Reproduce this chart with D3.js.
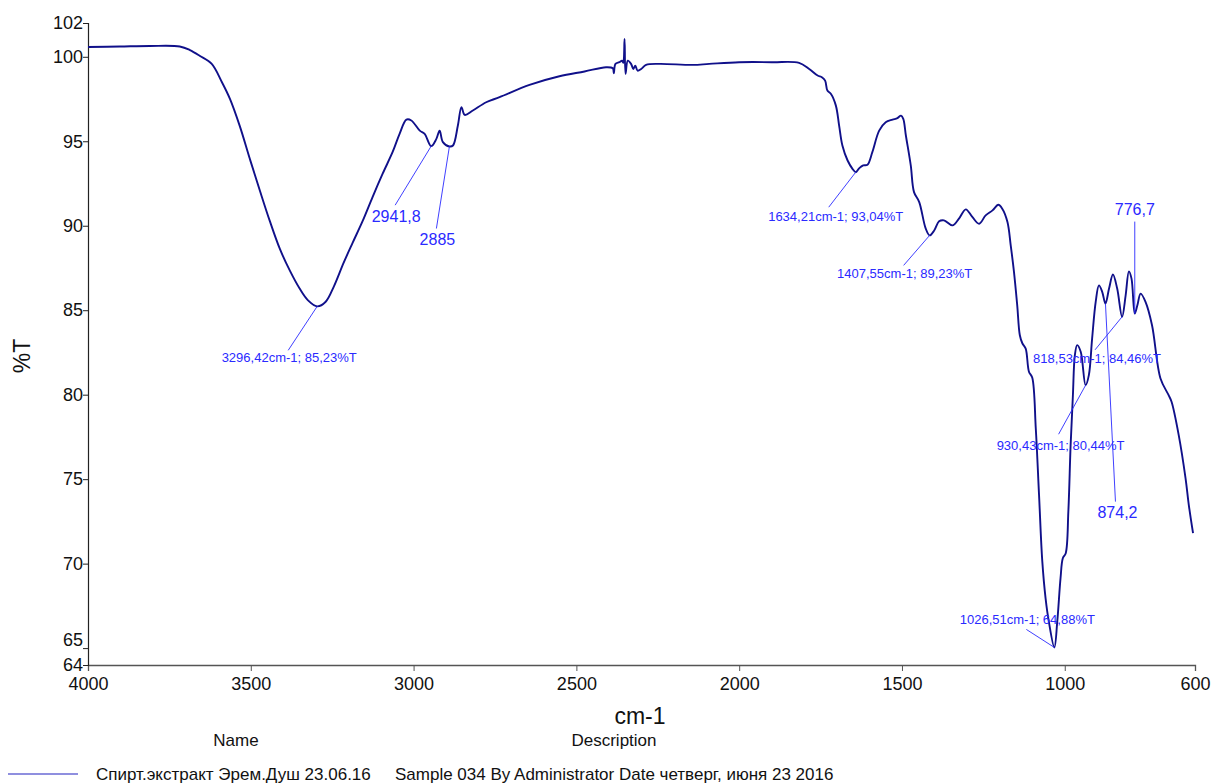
<!DOCTYPE html>
<html><head><meta charset="utf-8">
<script src="https://cdn.jsdelivr.net/npm/d3@7/dist/d3.min.js"></script>
<style>
html,body{margin:0;padding:0;background:#fff;}
svg{display:block;font-family:"Liberation Sans",Arial,sans-serif;}
</style></head>
<body>
<svg id="chart" width="1211" height="784"></svg>
<script>
// ---- data ----
const wavenumbers = [4000,3902,3810,3718,3687,3656,3620,3589,3564,3534,3503,3472,3442,3411,3380,3350,3325,3296,3270,3245,3215,3187,3156,3126,3095,3064,3043,3022,3007,2981,2966,2946,2930,2920,2910,2890,2879,2864,2853,2843,2818,2777,2736,2644,2552,2475,2409,2388,2385,2380,2368,2360,2356,2352,2349,2342,2332,2325,2319,2312,2301,2286,2245,2143,2092,2000,1897,1816,1785,1759,1746,1736,1729,1718,1703,1693,1683,1667,1652,1642,1631,1619,1606,1591,1570,1550,1529,1514,1503,1496,1488,1473,1463,1447,1427,1415,1401,1386,1371,1345,1325,1304,1284,1263,1243,1222,1204,1192,1176,1166,1156,1146,1138,1130,1120,1110,1100,1089,1079,1069,1059,1049,1032,1023,1013,1006,997,989,982,975,969,962,951,936,926,916,905,895,885,875,864,852,839,824,813,803,795,785,777,767,752,732,706,681,672,650,629,619,606];
const transmittance = [100.58,100.61,100.64,100.61,100.40,100.05,99.58,98.51,97.51,95.91,93.96,92.07,90.30,88.64,87.34,86.28,85.60,85.23,85.50,86.40,87.80,89.00,90.30,91.70,93.08,94.38,95.44,96.28,96.23,95.63,95.44,94.71,95.14,95.63,94.95,94.69,94.75,95.93,97.02,96.56,96.82,97.31,97.61,98.34,98.85,99.13,99.38,99.32,99.03,99.58,99.68,99.77,99.64,101.05,98.99,99.77,99.58,99.28,99.48,99.18,99.28,99.52,99.58,99.52,99.58,99.68,99.68,99.64,99.28,98.89,98.79,98.59,98.00,97.80,97.11,95.93,94.75,93.86,93.37,93.17,93.41,93.57,93.61,94.36,95.63,96.13,96.28,96.37,96.52,96.33,95.34,93.57,91.99,91.40,89.83,89.43,89.72,90.26,90.32,90.02,90.42,90.97,90.52,90.12,90.61,90.91,91.24,91.01,90.22,88.84,87.27,85.29,83.52,83.03,82.73,81.36,81.02,78.00,74.06,70.13,67.96,66.58,65.04,66.58,69.14,70.32,70.62,73.08,77.02,79.97,82.34,82.93,82.54,80.56,81.16,83.32,85.49,86.47,86.09,85.39,86.28,87.11,86.28,84.61,85.88,87.30,86.87,84.80,85.29,85.98,85.49,84.11,80.96,79.97,79.58,77.61,75.05,73.47,71.80];
const xTickValues = [4000,3500,3000,2500,2000,1500,1000,600];
const yTickValues = [64,65,70,75,80,85,90,95,100,102];
const peakLabels = ["3296,42cm-1; 85,23%T","2941,8","2885","1634,21cm-1; 93,04%T","1407,55cm-1; 89,23%T","776,7","818,53cm-1; 84,46%T","930,43cm-1; 80,44%T","874,2","1026,51cm-1; 64,88%T"];
const peakWavenumbers = [3296,2946,2890,1642,1415,785,824,936,875,1032];
const peakTransmittance = [85.23,94.71,94.69,93.17,89.43,84.80,84.61,80.56,85.39,65.04];
const legendName = "Спирт.экстракт Эрем.Душ 23.06.16";
const legendDescription = "Sample 034 By Administrator Date четверг, июня 23 2016";

// ---- layout (pixel offsets of leader lines and labels from their peaks) ----
const peakLayout = [
  {lx:-29,ly:44, tx:-28,ty:52, fs:13},
  {lx:-36,ly:59, tx:-35,ty:72, fs:16},
  {lx:-13,ly:82, tx:-12,ty:94, fs:16},
  {lx:-27,ly:35, tx:-20,ty:45, fs:13},
  {lx:-26,ly:30, tx:-25,ty:39, fs:13},
  {lx:0,ly:-92, tx:0,ty:-103, fs:16},
  {lx:-27,ly:33, tx:-25,ty:43, fs:13},
  {lx:-27,ly:49, tx:-25,ty:61, fs:13},
  {lx:10,ly:198, tx:12,ty:210, fs:16},
  {lx:-28,ly:-18, tx:-27,ty:-27, fs:13}
];

const svg = d3.select("#chart");
const x = d3.scaleLinear().domain([4000,600]).range([88,1195]);
const y = d3.scaleLinear().domain([64,102]).range([665,23]);
const axisColor = "#222";
const lineColor = "#10108a";
const annColor = "#2a2aff";

// axes
const xAxis = svg.append("g").attr("transform","translate(0,665)")
  .call(d3.axisBottom(x).tickValues(xTickValues).tickFormat(d3.format("d")).tickSizeOuter(0).tickSize(6));
xAxis.select(".domain").attr("stroke","#555").attr("stroke-width",1.3);
xAxis.selectAll(".tick line").attr("stroke","#555");
xAxis.selectAll(".tick text").attr("font-size",18).attr("fill","#111").attr("dy","0.9em")
  .attr("font-family","'Liberation Sans',Arial,sans-serif");

const yAxis = svg.append("g").attr("transform","translate(88,0)")
  .call(d3.axisLeft(y).tickValues(yTickValues).tickFormat(d3.format("d")).tickSizeOuter(0).tickSize(5));
yAxis.select(".domain").attr("stroke",axisColor).attr("stroke-width",1.2);
yAxis.selectAll(".tick line").attr("stroke",axisColor);
yAxis.selectAll(".tick text").attr("font-size",18).attr("fill","#111").attr("x",-5)
  .attr("font-family","'Liberation Sans',Arial,sans-serif")
  .attr("dy",d => d===65 ? "-0.15em" : "0.32em");

// axis titles
svg.append("text").attr("x",640).attr("y",724).attr("text-anchor","middle")
  .attr("font-size",23).attr("fill","#111").text("cm-1");
svg.append("text").attr("transform","translate(30,356) rotate(-90)").attr("text-anchor","middle")
  .attr("font-size",23).attr("fill","#111").text("%T");

// spectrum
const pts = wavenumbers.map((w,i)=>[w,transmittance[i]]);
svg.append("path").datum(pts)
  .attr("fill","none").attr("stroke",lineColor).attr("stroke-width",1.9)
  .attr("stroke-linejoin","round")
  .attr("d", d3.line().x(d=>x(d[0])).y(d=>y(d[1])).curve(d3.curveCatmullRom.alpha(0.5)));

// peak annotations
const ann = svg.append("g");
peakLabels.forEach((t,i)=>{
  const px = x(peakWavenumbers[i]), py = y(peakTransmittance[i]);
  const L = peakLayout[i];
  ann.append("line").attr("x1",px).attr("y1",py).attr("x2",px+L.lx).attr("y2",py+L.ly)
    .attr("stroke",annColor).attr("stroke-width",0.9);
  ann.append("text").attr("x",px+L.tx).attr("y",py+L.ty).attr("text-anchor","middle")
    .attr("dominant-baseline","middle").attr("font-size",L.fs).attr("fill",annColor).text(t);
});

// legend
svg.append("text").attr("x",236).attr("y",746).attr("text-anchor","middle").attr("font-size",17).attr("fill","#111").text("Name");
svg.append("text").attr("x",614).attr("y",746).attr("text-anchor","middle").attr("font-size",17).attr("fill","#111").text("Description");
svg.append("line").attr("x1",8).attr("x2",78).attr("y1",774).attr("y2",774).attr("stroke","#2020c0").attr("stroke-width",1.2);
svg.append("text").attr("x",96).attr("y",780).attr("font-size",17).attr("fill","#111").text(legendName);
svg.append("text").attr("x",395).attr("y",780).attr("font-size",17).attr("fill","#111").text(legendDescription);
</script>
</body></html>
